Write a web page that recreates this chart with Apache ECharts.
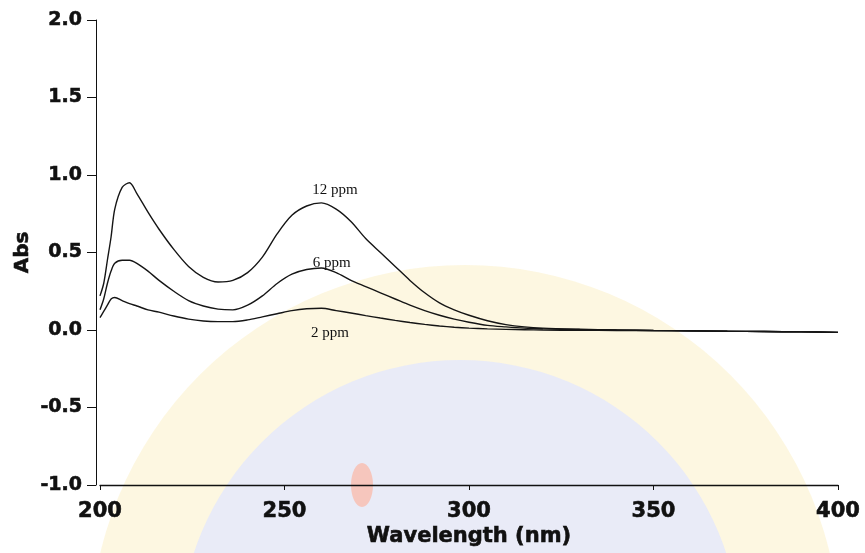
<!DOCTYPE html>
<html>
<head>
<meta charset="utf-8">
<script src="https://cdn.jsdelivr.net/npm/echarts@6/dist/echarts.min.js"></script>
<style>
html,body{margin:0;padding:0;background:#fff;}
#chart{width:865px;height:553px;}
</style>
</head>
<body>
<div id="chart"></div>
<script>
// Wavelength grid (nm)
var wavelength = [200, 201, 202, 203, 204, 206, 208, 210, 213, 216, 220, 224, 228, 232, 236, 240, 244, 248, 252, 256, 260, 264, 268, 272, 276, 280, 284, 288, 292, 296, 300, 305, 310, 315, 320, 330, 340, 350, 360, 370, 380, 390, 400];
// Absorbance readings
var abs12 = [0.22, 0.30, 0.45, 0.60, 0.78, 0.92, 0.95, 0.88, 0.76, 0.65, 0.52, 0.41, 0.34, 0.31, 0.32, 0.37, 0.47, 0.62, 0.74, 0.80, 0.82, 0.78, 0.70, 0.59, 0.50, 0.41, 0.32, 0.24, 0.175, 0.13, 0.095, 0.06, 0.035, 0.02, 0.012, 0.005, 0.0, -0.003, -0.005, -0.008, -0.01, -0.012, -0.015];
var abs6 = [0.13, 0.20, 0.30, 0.38, 0.43, 0.45, 0.45, 0.43, 0.38, 0.32, 0.25, 0.19, 0.155, 0.135, 0.13, 0.16, 0.22, 0.30, 0.36, 0.39, 0.40, 0.37, 0.32, 0.28, 0.24, 0.20, 0.16, 0.125, 0.095, 0.07, 0.05, 0.03, 0.02, 0.012, 0.008, 0.003, 0.0, -0.003, -0.005, -0.008, -0.01, -0.012, -0.015];
var abs2 = [0.08, 0.12, 0.16, 0.20, 0.21, 0.19, 0.17, 0.155, 0.13, 0.115, 0.09, 0.07, 0.058, 0.054, 0.054, 0.065, 0.085, 0.105, 0.125, 0.137, 0.14, 0.125, 0.11, 0.093, 0.077, 0.062, 0.048, 0.036, 0.026, 0.018, 0.012, 0.007, 0.004, 0.002, 0.0, -0.002, -0.003, -0.004, -0.006, -0.008, -0.01, -0.012, -0.015];
var seriesNames = ['12 ppm', '6 ppm', '2 ppm'];
var labelPos = [[263.7, 0.90], [262.8, 0.43], [262.3, -0.02]];
var xTicks = [200, 250, 300, 350, 400];
var yTicks = [-1.0, -0.5, 0.0, 0.5, 1.0, 1.5, 2.0];

function pairs(ys) { return wavelength.map(function (w, i) { return [w, ys[i]]; }); }
var allAbs = [abs12, abs6, abs2];

var chart = echarts.init(document.getElementById('chart'), null, {renderer: 'canvas'});
var series = allAbs.map(function (ys, k) {
  return {
    name: seriesNames[k],
    type: 'line',
    data: pairs(ys),
    showSymbol: false,
    smooth: 0.3,
    lineStyle: {color: '#151515', width: 1.4},
    z: 5,
    markPoint: {
      symbol: 'circle', symbolSize: 0,
      data: [{coord: labelPos[k], value: seriesNames[k]}],
      label: {show: true, position: 'inside', formatter: seriesNames[k], color: '#111', fontFamily: 'Liberation Serif', fontSize: 15}
    }
  };
});

var boldText = {fontFamily: 'DejaVu Sans', fontWeight: 'bold', color: '#111', textBorderColor: '#111', textBorderWidth: 0.6};

chart.setOption({
  animation: false,
  backgroundColor: '#ffffff',
  graphic: [
    {type: 'circle', z: -10, silent: true, shape: {cx: 465, cy: 640, r: 375}, style: {fill: '#fdf6de', opacity: 0.9}},
    {type: 'circle', z: -9, silent: true, shape: {cx: 460, cy: 640, r: 280}, style: {fill: '#e8eaf8', opacity: 0.95}},
    {type: 'ellipse', z: -8, silent: true, shape: {cx: 362, cy: 485, rx: 11, ry: 22}, style: {fill: '#f6c6bd'}}
  ],
  grid: {left: 100, right: 27, top: 20, bottom: 68, containLabel: false},
  xAxis: {
    type: 'value', min: 200, max: 400, interval: 50,
    name: 'Wavelength (nm)', nameLocation: 'middle', nameGap: 41, nameMoveOverlap: false,
    nameTextStyle: Object.assign({fontSize: 21}, boldText),
    axisLine: {show: true, onZero: false, lineStyle: {color: '#111', width: 1.3}},
    axisTick: {show: true, length: 5, inside: false, lineStyle: {color: '#111'}},
    axisLabel: Object.assign({margin: 16, fontSize: 21,
      formatter: function (v) { return xTicks.indexOf(v) >= 0 ? String(v) : ''; }}, boldText),
    splitLine: {show: false}
  },
  yAxis: {
    type: 'value', min: -1.0, max: 2.0, interval: 0.5, offset: 4,
    name: 'Abs', nameLocation: 'middle', nameGap: 63, nameRotate: 90, nameMoveOverlap: false,
    nameTextStyle: Object.assign({fontSize: 20}, boldText),
    axisLine: {show: true, onZero: false, lineStyle: {color: '#111', width: 1}},
    axisTick: {show: true, length: 9, inside: false, lineStyle: {color: '#111'}},
    axisLabel: Object.assign({margin: 14, fontSize: 19,
      formatter: function (v) { return yTicks.indexOf(v) >= 0 ? v.toFixed(1) : ''; }}, boldText),
    splitLine: {show: false}
  },
  series: series
});
</script>
</body>
</html>
